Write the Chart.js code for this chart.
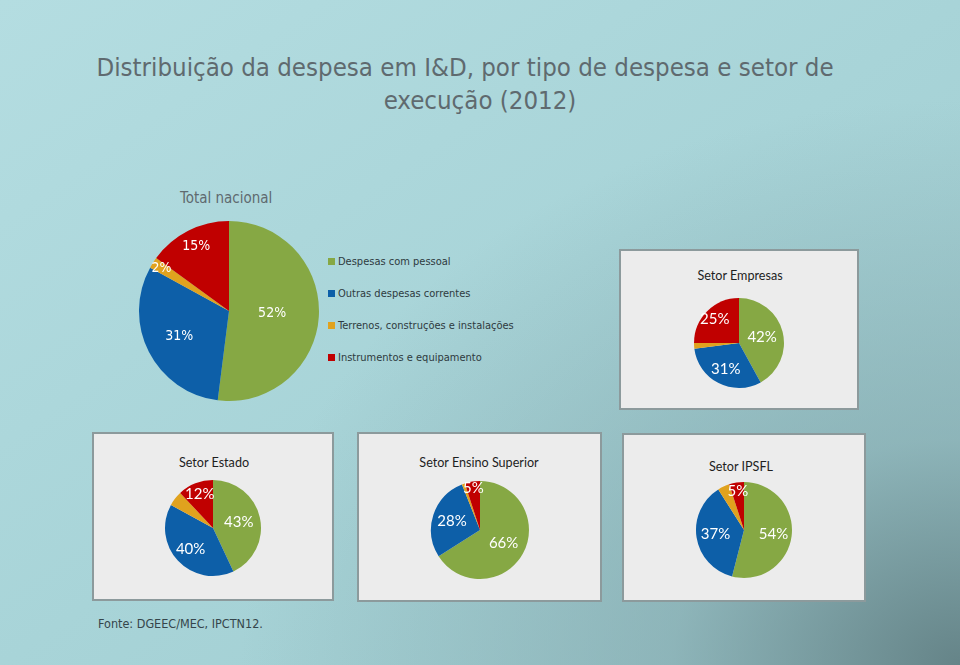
<!DOCTYPE html>
<html>
<head>
<meta charset="utf-8">
<script src="https://cdn.jsdelivr.net/npm/chart.js@4.4.1/dist/chart.umd.min.js"></script>
<style>
  html, body { margin:0; padding:0; }
  body {
    width:960px; height:665px; position:relative; overflow:hidden;
    background:
      radial-gradient(ellipse 75% 85% at 100% 100%, rgba(98,128,132,0.95) 0%, rgba(125,160,165,0.55) 40%, rgba(160,205,210,0) 100%),
      linear-gradient(to bottom right, #b4dde1 0%, #a8d4d8 50%, #9ecbcf 100%);
    font-family: "DejaVu Sans Condensed", "DejaVu Sans", sans-serif;
  }
  .abs { position:absolute; white-space:nowrap; }
  #title { left:0; width:960px; text-align:center; top:51px; font-size:25.6px; line-height:33px; color:#5f6a6f; }
  #title span { position:relative; left:-15px; }
  #tn { left:180px; top:189px; font-size:15px; color:#5f6a6f; }
  .box { position:absolute; background:#ececec; border:2px solid #8c9a9c; box-sizing:border-box; }
  .btitle { position:absolute; font-family: Lato, "Open Sans", sans-serif; font-size:12.6px; color:#1e1e1e; transform:translateX(-50%); white-space:nowrap; }
  .leg { position:absolute; left:328px; font-size:11px; color:#2e3a40; white-space:nowrap; }
  .leg i { display:inline-block; width:7px; height:7px; margin-right:3px; vertical-align:0px; }
  #src { left:98px; top:616px; font-size:12.5px; color:#35454b; }
  canvas { position:absolute; }
</style>
</head>
<body>
<div id="title" class="abs"><span>Distribuição da despesa em I&amp;D, por tipo de despesa e setor de</span><br>execução (2012)</div>
<div id="tn" class="abs">Total nacional</div>

<div class="box" style="left:619px;top:249px;width:240px;height:161px;"></div>
<div class="box" style="left:92px;top:432px;width:242px;height:169px;"></div>
<div class="box" style="left:357px;top:432px;width:245px;height:170px;"></div>
<div class="box" style="left:622px;top:433px;width:244px;height:169px;"></div>

<div class="btitle" style="left:740px;top:268px;">Setor Empresas</div>
<div class="btitle" style="left:214px;top:455px;">Setor Estado</div>
<div class="btitle" style="left:479px;top:455px;">Setor Ensino Superior</div>
<div class="btitle" style="left:741px;top:459px;">Setor IPSFL</div>

<div id="legend"></div>
<div id="src" class="abs">Fonte: DGEEC/MEC, IPCTN12.</div>

<canvas id="cTotal"></canvas>
<canvas id="cEmp"></canvas>
<canvas id="cEst"></canvas>
<canvas id="cEns"></canvas>
<canvas id="cIps"></canvas>

<script>
// ---- DATA ----
const categories = ["Despesas com pessoal", "Outras despesas correntes", "Terrenos, construções e instalações", "Instrumentos e equipamento"];
const totalNacional       = [52, 31, 2, 15];
const setorEmpresas       = [42, 31, 2, 25];
const setorEstado         = [43, 40, 5, 12];
const setorEnsinoSuperior = [66, 28, 1, 5];
const setorIPSFL          = [54, 37, 4, 5];

// ---- STYLE ----
const colors = ["#86a844", "#0d5fa8", "#e0a21e", "#c00000"];

// legend
const legTops = [255, 287, 319, 351];
const legend = document.getElementById('legend');
categories.forEach((c, i) => {
  const d = document.createElement('div');
  d.className = 'leg';
  d.style.top = legTops[i] + 'px';
  d.innerHTML = '<i style="background:' + colors[i] + '"></i>' + c;
  legend.appendChild(d);
});

const labelPlugin = {
  id: 'sliceLabels',
  afterDatasetsDraw(chart, args, opts) {
    const ctx = chart.ctx;
    const meta = chart.getDatasetMeta(0);
    const vals = chart.data.datasets[0].data;
    ctx.save();
    ctx.font = opts.font;
    ctx.fillStyle = '#ffffff';
    ctx.textAlign = 'center';
    ctx.textBaseline = 'middle';
    meta.data.forEach((arc, i) => {
      const f = opts.frac[i];
      if (f == null) return;
      const a = (arc.startAngle + arc.endAngle) / 2;
      const r = arc.outerRadius * f;
      ctx.fillText(vals[i] + '%', arc.x + Math.cos(a) * r, arc.y + Math.sin(a) * r);
    });
    ctx.restore();
  }
};

function makePie(id, values, cx, cy, r, frac, font) {
  const m = 4;
  const cv = document.getElementById(id);
  const size = 2 * r + 2 * m;
  cv.width = size; cv.height = size;
  cv.style.left = (cx - r - m) + 'px';
  cv.style.top = (cy - r - m) + 'px';
  cv.style.width = size + 'px'; cv.style.height = size + 'px';
  new Chart(cv, {
    type: 'pie',
    data: { labels: categories, datasets: [{ data: values, backgroundColor: colors, borderWidth: 0 }] },
    options: {
      responsive: false, animation: false, devicePixelRatio: 1,
      layout: { padding: m },
      plugins: { legend: { display: false }, tooltip: { enabled: false },
                 sliceLabels: { frac: frac, font: font } }
    },
    plugins: [labelPlugin]
  });
}

const bigFont = '14px "DejaVu Sans Condensed", "DejaVu Sans", sans-serif';
const smallFont = '15px Lato, "Open Sans", sans-serif';
makePie('cTotal', totalNacional, 229, 311, 90, [0.48, 0.62, 0.89, 0.8], bigFont);
makePie('cEmp', setorEmpresas, 739, 343, 45, [0.53, 0.65, null, 0.76], smallFont);
makePie('cEst', setorEstado, 213, 528, 48, [0.55, 0.64, null, 0.75], smallFont);
makePie('cEns', setorEnsinoSuperior, 480, 530, 49, [0.55, 0.6, null, 0.86], smallFont);
makePie('cIps', setorIPSFL, 744, 530, 48, [0.62, 0.6, null, 0.82], smallFont);
</script>
</body>
</html>
